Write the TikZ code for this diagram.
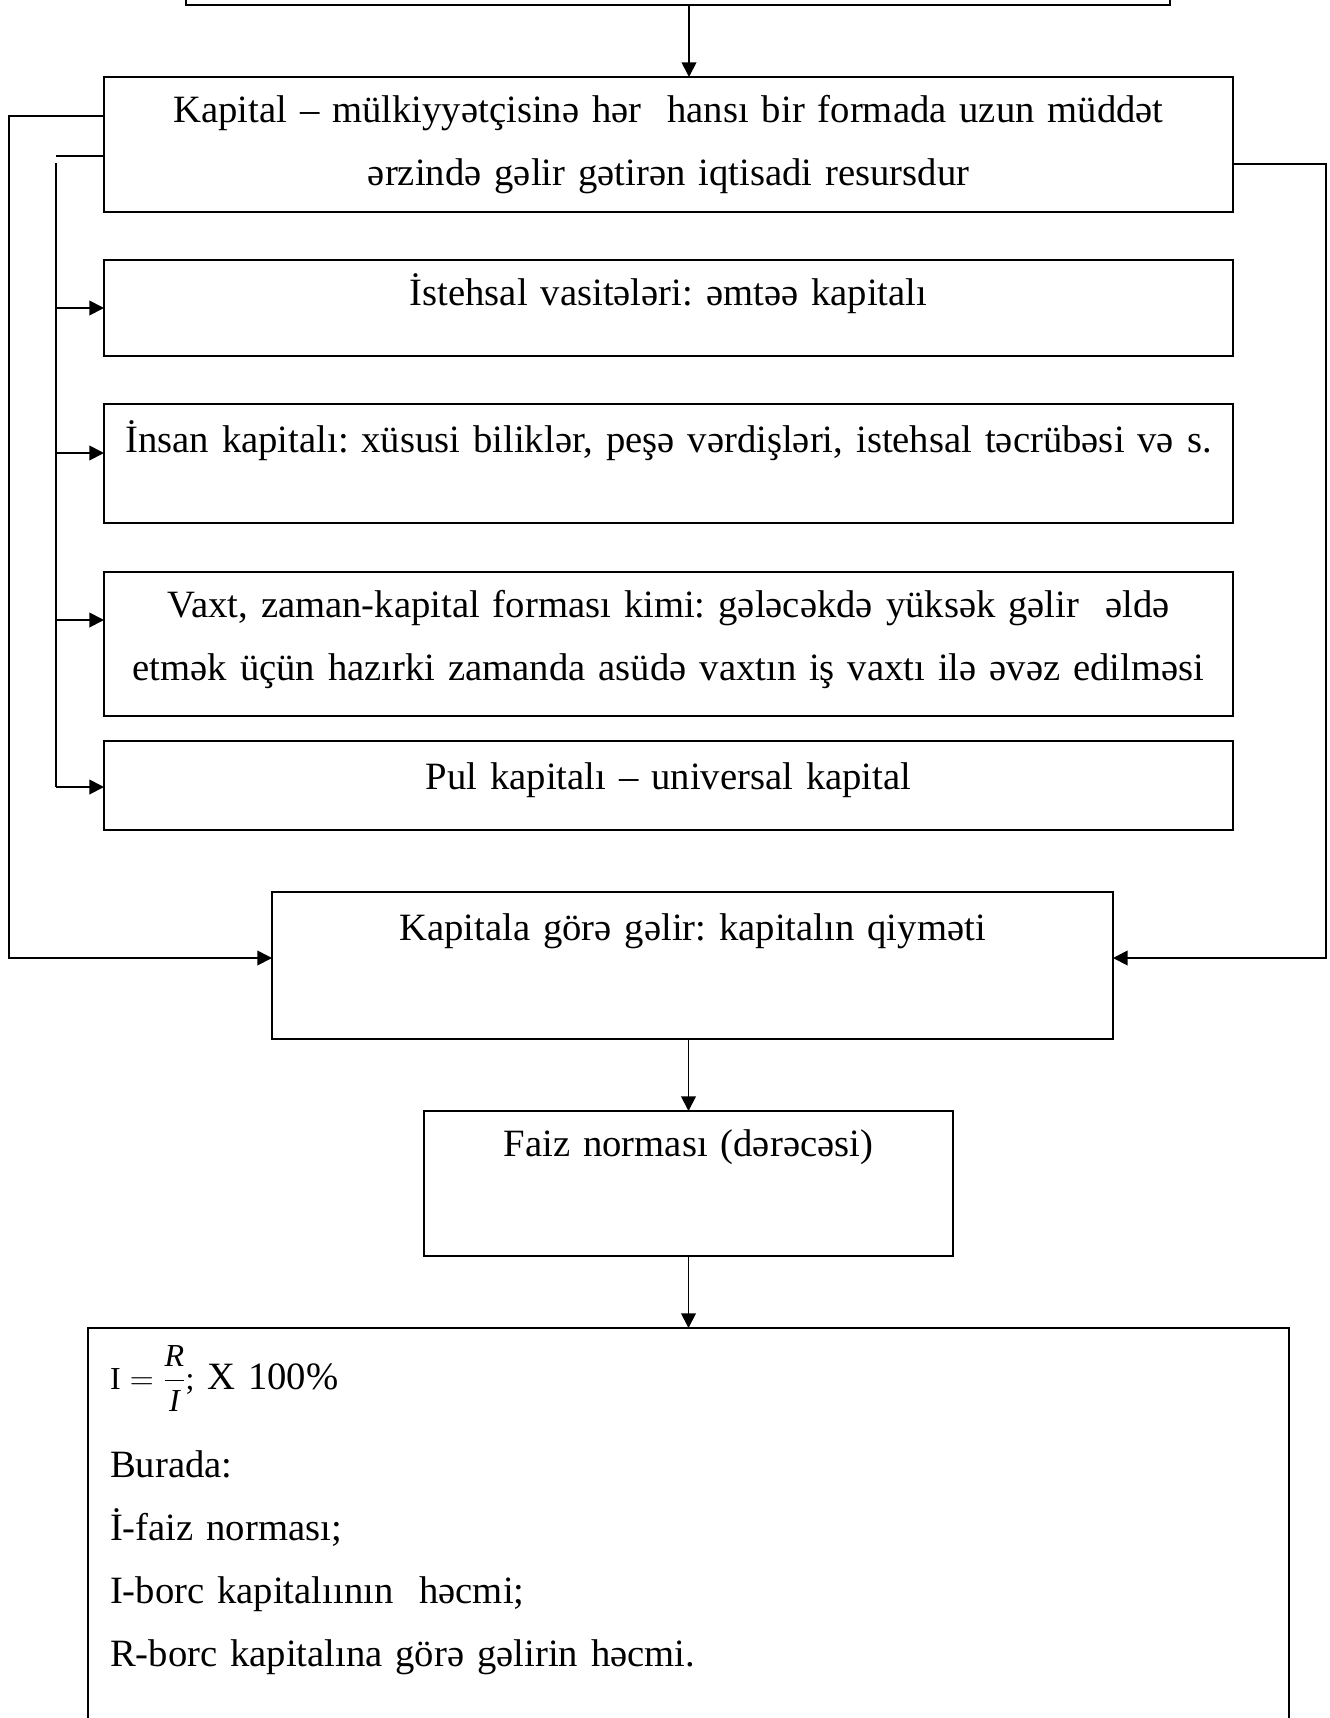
\documentclass[tikz,border=0pt]{standalone}
\usepackage{amsmath}
\usepackage{fontspec}
\setmainfont{Liberation Serif}
\usetikzlibrary{positioning, arrows.meta}
\frenchspacing

\begin{document}
\begin{tikzpicture}[x=0.75pt, y=-0.75pt, >={Triangle[length=11pt, width=11pt]},
    every node/.style={font=\fontsize{29pt}{47.25pt}\selectfont},
    blok/.style={draw, rectangle, line width=1.8pt, inner xsep=5pt, inner ysep=0pt, outer sep=0pt, align=center},
    ox/.style={line width=1.4pt}]
    \useasboundingbox (0,0) rectangle (1330,1718);

    \node [blok, text width=728pt, text height=0pt, text depth=60pt, anchor=south] (ust) at (678,5) {};
    \node [blok, text width=836.75pt, text height=33.75pt, text depth=67.5pt, anchor=north] (kapital) at (668.5,77) {Kapital – mülkiyyətçisinə hər\ \ hansı bir formada uzun müddət\\ərzində gəlir gətirən iqtisadi resursdur};
    \node [blok, text width=836.75pt, text height=33.75pt, text depth=38.25pt, below=36pt of kapital] (istehsal) {İstehsal vasitələri: əmtəə kapitalı};
    \node [blok, text width=836.75pt, text height=36pt, text depth=53.25pt, below=36pt of istehsal] (insan) {İnsan kapitalı: xüsusi biliklər, peşə vərdişləri, istehsal təcrübəsi və s.};
    \node [blok, text width=836.75pt, text height=33.75pt, text depth=74.25pt, below=36.75pt of insan] (vaxt) {Vaxt, zaman-kapital forması kimi: gələcəkdə yüksək gəlir\ \ əldə\\etmək üçün hazırki zamanda asüdə vaxtın iş vaxtı ilə əvəz edilməsi};
    \node [blok, text width=836.75pt, text height=36pt, text depth=30.75pt, below=18.75pt of vaxt] (pul) {Pul kapitalı – universal kapital};

    \node [blok, text width=620.75pt, text height=36pt, text depth=74.25pt, below=46.5pt of pul, xshift=18pt] (gelir) {Kapitala görə gəlir: kapitalın qiyməti};
    \node [blok, text width=386.75pt, text height=33.75pt, text depth=75pt, below=54pt of gelir, xshift=-3pt] (faiz) {Faiz norması (dərəcəsi)};

    \node [blok, text width=867.75pt, inner xsep=16.5pt, align=left, text height=45.75pt, text depth=300pt, below=54pt of faiz] (dustur) {{\fontsize{24pt}{24pt}\selectfont $\textrm{I}=\dfrac{\textit{R}}{\textit{I}}$;}\ X 100\%\\[18.75pt]
        Burada:\\
        İ-faiz norması;\\
        I-borc kapitalıının\ \ həcmi;\\
        R-borc kapitalına görə gəlirin həcmi.};

    % main chain
    \draw [ox, ->] (ust.south -| 689,0) -- (kapital.north -| 689,0);
    \draw [ox, ->] (gelir.south -| faiz.north) -- (faiz.north);
    \draw [ox, ->] (faiz.south) -- (dustur.north -| faiz.south);

    % forms of capital
    \draw [ox] (kapital.west |- 0,156) -- (56,156);
    \draw [ox] (56,163) -- (56,787);
    \foreach \blk/\yy in {istehsal/308, insan/453, vaxt/620, pul/787}
        \draw [ox, ->] (56,\yy) -- (\blk.west |- 56,\yy);

    % income loops
    \draw [ox, ->] (kapital.west |- 0,116) -- (9,116) -- (9,958) -- (gelir.west |- 0,958);
    \draw [ox, ->] (kapital.east |- 0,164) -- (1326,164) -- (1326,958) -- (gelir.east |- 0,958);
\end{tikzpicture}
\end{document}
